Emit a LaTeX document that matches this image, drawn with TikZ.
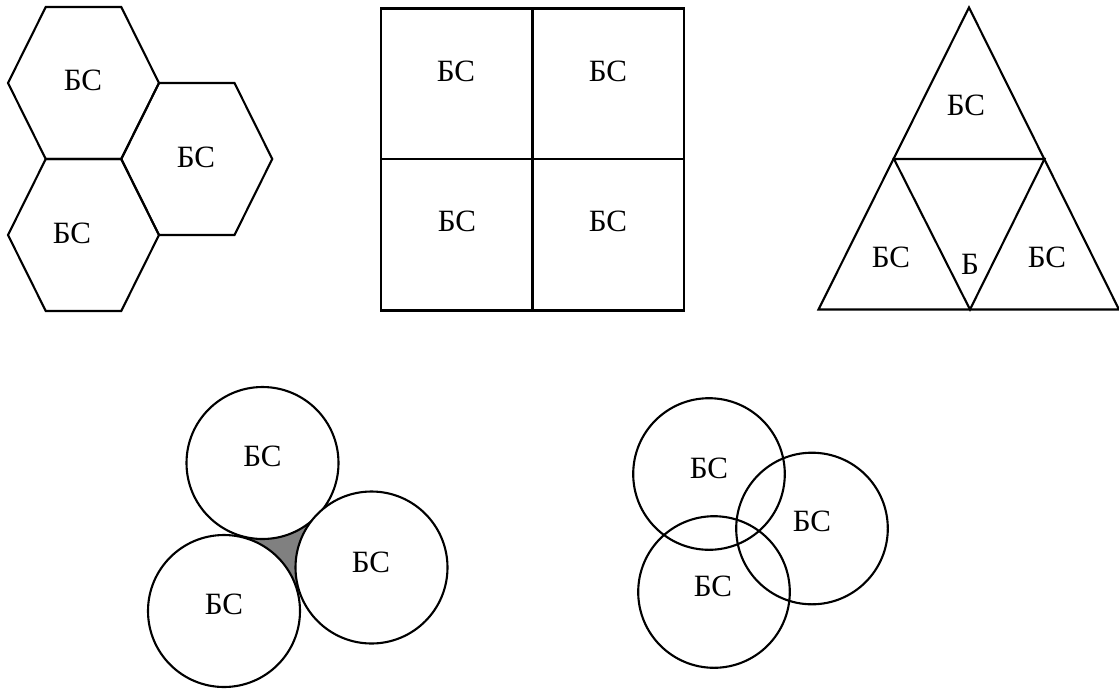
\documentclass[tikz,border=0pt]{standalone}
\usepackage{fontspec}
\setmainfont{Liberation Serif}
\begin{document}
\begin{tikzpicture}[x=1pt,y=-1pt,
  cell/.style={draw=black,line width=2.1pt,line join=miter},
  bs/.style={inner sep=0pt,font=\fontsize{31}{31}\selectfont}]
\useasboundingbox (0,0) rectangle (1119,689);

% --- hexagonal cells (shared edges use identical vertices) ---
\foreach \cx/\cy in {83.5/83, 83.5/235, 196.75/159}{
  \draw[cell] (\cx-75.5,\cy) -- (\cx-37.75,\cy-76) -- (\cx+37.75,\cy-76)
    -- (\cx+75.5,\cy) -- (\cx+37.75,\cy+76) -- (\cx-37.75,\cy+76) -- cycle;
}
\node[bs] (h1) at (83,80) {БС};
\node[bs] (h2) at (72,233) {БС};
\node[bs] (h3) at (196,157) {БС};

% --- square cells ---
\draw[cell] (381,8.5) rectangle (684,310.5);
\draw[cell] (532.5,8.5) -- (532.5,310.5);
\draw[cell] (381,159) -- (684,159);
\node[bs] (s1) at (456,71) {БС};
\node[bs] (s2) at (608,71) {БС};
\node[bs] (s3) at (457,221) {БС};
\node[bs] (s4) at (608,221) {БС};

% --- triangular cells ---
\draw[cell] (969,7.5) -- (1119,309.5) -- (818.5,309.5) -- cycle;
\draw[cell] (894,159) -- (1044.5,159) -- (970,309.5) -- cycle;
\node[bs] (t1) at (966,105) {БС};
\node[bs] (t2) at (891,257) {БС};
\node[bs] (t3) at (1047,257) {БС};
\node[bs] (t4) at (970,264) {Б};

% --- touching circles with the uncovered gap ---
\fill[gray] (262.5,463) -- (371.5,567.5) -- (224,611) -- cycle;
\foreach \cx/\cy in {262.5/463, 371.5/567.5, 224/611}{
  \fill[white] (\cx,\cy) circle[radius=76];
  \draw[cell] (\cx,\cy) circle[radius=76];
}
\node[bs] (c1) at (262.5,456) {БС};
\node[bs] (c2) at (371,562) {БС};
\node[bs] (c3) at (224,604) {БС};

% --- overlapping circles ---
\foreach \cx/\cy in {709/474, 812/528.5, 714/592}{
  \draw[cell] (\cx,\cy) circle[radius=75.8];
}
\node[bs] (o1) at (709,468) {БС};
\node[bs] (o2) at (812,521) {БС};
\node[bs] (o3) at (713,586) {БС};
\end{tikzpicture}
\end{document}
